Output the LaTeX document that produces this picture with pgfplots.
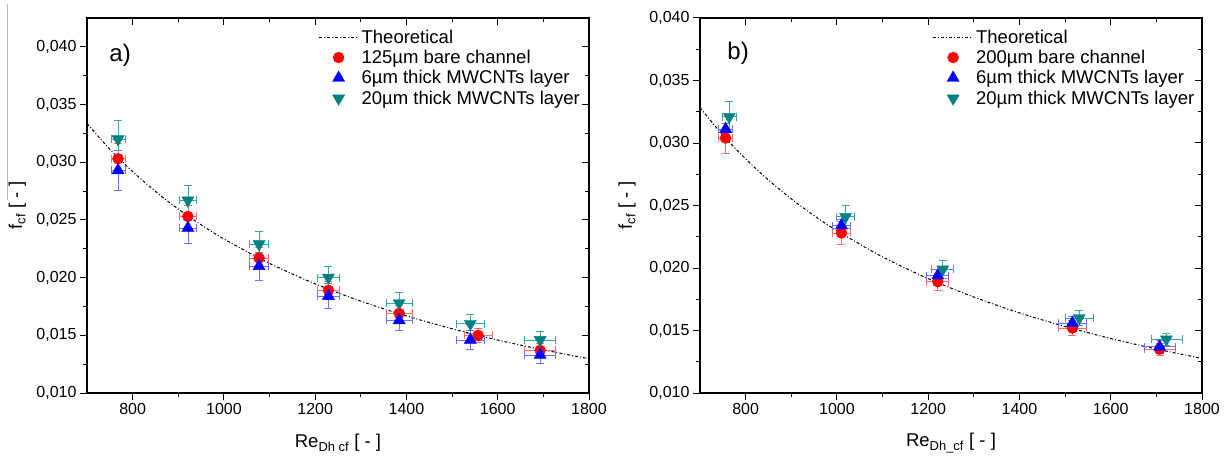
\documentclass[border=0pt]{standalone}
\usepackage{pgfplots}
\usepackage{pgfplotstable}
\pgfplotsset{compat=1.18}
\usepackage{fontspec}
\setmainfont{Liberation Sans}
\definecolor{cteal}{RGB}{0,128,128}
\definecolor{ered}{RGB}{255,110,110}
\definecolor{eblue}{RGB}{110,110,255}
\definecolor{eteal}{RGB}{60,165,165}

% panel a
\pgfplotstableread{
x y ex ey
768 0.0303 15 0.0013
921 0.0253 18 0.0010
1077 0.0217 21 0.0009
1229 0.0189 25 0.0008
1384 0.0169 28 0.0007
1557 0.0150 31 0.0006
1693 0.0137 34 0.0006
}\aRed
\pgfplotstableread{
x y ex ey
768 0.0293 15 0.0017
921 0.0243 18 0.0013
1077 0.0210 21 0.0012
1229 0.0184 25 0.0011
1384 0.0163 28 0.0009
1540 0.0146 31 0.0008
1693 0.0133 34 0.0007
}\aBlue
\pgfplotstableread{
x y ex ey
768 0.0320 15 0.0016
921 0.0267 18 0.0013
1077 0.0229 21 0.0011
1229 0.0200 25 0.0010
1384 0.0178 28 0.0009
1540 0.0160 31 0.0008
1693 0.0146 34 0.0007
}\aTeal
% panel b
\pgfplotstableread{
x y ex ey
756 0.0304 15 0.0012
1010 0.0228 20 0.0009
1221 0.0189 24 0.0007
1516 0.0152 30 0.0006
1707 0.0135 34 0.0005
}\bRed
\pgfplotstableread{
x y ex ey
756 0.0311 15 0.0005
1010 0.0234 20 0.0005
1221 0.0194 24 0.0005
1516 0.0156 30 0.0005
1707 0.0137 34 0.0005
}\bBlue
\pgfplotstableread{
x y ex ey
764 0.0321 15 0.0012
1019 0.0241 20 0.0009
1232 0.0199 24 0.0007
1531 0.0160 30 0.0006
1722 0.0143 34 0.0005
}\bTeal

\pgfplotsset{
  base/.style={
    scale only axis, width=502pt, height=375pt,
    xmin=700, xmax=1800, ymin=0.010,
    xtick={800,1000,1200,1400,1600,1800},
    ytick={0.010,0.015,0.020,0.025,0.030,0.035,0.040},
    minor x tick num=1, minor y tick num=1,
    major tick length=7pt, minor tick length=4pt,
    axis line style={line width=1.1pt},
    every tick/.style={black, line width=1pt},
    scaled y ticks=false,
    anchor=south west,
  },
  labs/.style={
    xtick pos=left, ytick pos=left, tick align=outside,
    tick label style={font=\fontsize{16}{19}\selectfont},
    /pgf/number format/assume math mode=true,
    xticklabel style={/pgf/number format/1000 sep={}},
    yticklabel style={/pgf/number format/.cd, fixed, fixed zerofill, precision=3, use comma},
    legend style={draw=none, fill=none, inner sep=0pt, anchor=north west,
      font=\fontsize{18.5}{22}\selectfont, row sep=0.5pt, nodes={inner sep=2.5pt}},
    legend cell align=left,
  },
  mirror/.style={xtick pos=right, ytick pos=right, tick align=inside,
    xticklabels={}, yticklabels={}},
  theo/.style={black, line width=1pt, dash pattern=on 3pt off 2pt on 1pt off 2pt, smooth,
    legend image code/.code={\draw[##1] (0pt,0pt) -- (40pt,0pt);}},
  pts/.style n args={3}{only marks, mark=#1, color=#2,
    error bars/.cd, x dir=both, x explicit, y dir=both, y explicit,
    error bar style={color=#3, line width=0.7pt},
    error mark options={rotate=90, mark size=4pt, color=#3, line width=0.7pt},
    /pgfplots/.cd,
    legend image code/.code={\draw[##1] plot coordinates {(20pt,0pt)};}},
}

\begin{document}
\begin{tikzpicture}[x=1pt,y=1pt]
\useasboundingbox (0,0) rectangle (1224,456);
\draw[gray!60, line width=1pt] (7,452) -- (7,256);

% ---------- panel a ----------
\begin{axis}[base, labs, ymax=0.0425, at={(87pt,63pt)},
  xlabel={Re\textsubscript{Dh cf} [ - ]},
  ylabel={f\textsubscript{cf} [ - ]},
  every axis x label/.style={at={(axis description cs:0.5,-0.133)}, anchor=center, font=\fontsize{18.5}{21}\selectfont},
  every axis y label/.style={at={(axis description cs:-0.139,0.5)}, rotate=90, anchor=center, font=\fontsize{18.5}{21}\selectfont},
  legend style={at={(axis description cs:0.46,0.976)}},
]
\addplot[theo] coordinates {(700,0.03336) (750,0.03113) (800,0.02919) (850,0.02747) (900,0.02594) (950,0.02458) (1000,0.02335) (1100,0.02123) (1200,0.01946) (1300,0.01796) (1400,0.01668) (1500,0.01557) (1600,0.01459) (1700,0.01374) (1800,0.01297)};
\addlegendentry{Theoretical}
\addplot[pts={*}{red}{ered}, mark size=5.5pt] table[x=x,y=y,x error=ex,y error=ey]{\aRed};
\addlegendentry{125\textmu m bare channel}
\addplot[pts={triangle*}{blue}{eblue}, mark size=7pt] table[x=x,y=y,x error=ex,y error=ey]{\aBlue};
\addlegendentry{6\textmu m thick MWCNTs layer}
\addplot[pts={triangle*}{cteal}{eteal}, mark size=7pt, mark options={rotate=180}] table[x=x,y=y,x error=ex,y error=ey]{\aTeal};
\addlegendentry{20\textmu m thick MWCNTs layer}
\node[font=\fontsize{24}{28}\selectfont] at (rel axis cs:0.066,0.901) {a)};
\end{axis}
\begin{axis}[base, mirror, ymax=0.0425, at={(87pt,63pt)}]
\end{axis}

% ---------- panel b ----------
\begin{axis}[base, labs, ymax=0.040, at={(700pt,63pt)},
  xlabel={Re\textsubscript{Dh\_cf} [ - ]},
  ylabel={f\textsubscript{cf} [ - ]},
  every axis x label/.style={at={(axis description cs:0.5,-0.133)}, anchor=center, font=\fontsize{18.5}{21}\selectfont},
  every axis y label/.style={at={(axis description cs:-0.145,0.5)}, rotate=90, anchor=center, font=\fontsize{18.5}{21}\selectfont},
  legend style={at={(axis description cs:0.463,0.976)}},
]
\addplot[theo] coordinates {(700,0.03283) (750,0.03064) (800,0.02873) (850,0.02704) (900,0.02553) (950,0.02419) (1000,0.02298) (1100,0.02089) (1200,0.01915) (1300,0.01768) (1400,0.01641) (1500,0.01532) (1600,0.01436) (1700,0.01352) (1800,0.01277)};
\addlegendentry{Theoretical}
\addplot[pts={*}{red}{ered}, mark size=5.5pt] table[x=x,y=y,x error=ex,y error=ey]{\bRed};
\addlegendentry{200\textmu m bare channel}
\addplot[pts={triangle*}{blue}{eblue}, mark size=7pt] table[x=x,y=y,x error=ex,y error=ey]{\bBlue};
\addlegendentry{6\textmu m thick MWCNTs layer}
\addplot[pts={triangle*}{cteal}{eteal}, mark size=7pt, mark options={rotate=180}] table[x=x,y=y,x error=ex,y error=ey]{\bTeal};
\addlegendentry{20\textmu m thick MWCNTs layer}
\node[font=\fontsize{24}{28}\selectfont] at (rel axis cs:0.076,0.907) {b)};
\end{axis}
\begin{axis}[base, mirror, ymax=0.040, at={(700pt,63pt)}]
\end{axis}
\end{tikzpicture}
\end{document}
